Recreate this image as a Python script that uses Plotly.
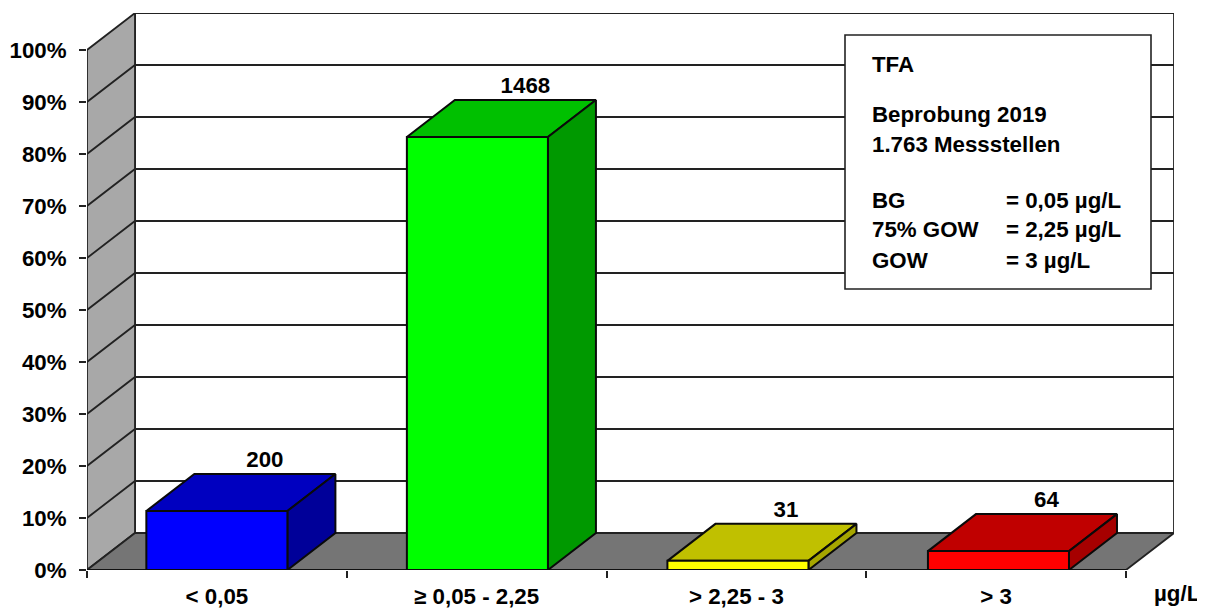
import plotly.graph_objects as go

categories = ["< 0,05", "≥ 0,05 - 2,25", "> 2,25 - 3", "> 3"]
counts = [200, 1468, 31, 64]
total_sites = 1763
y_ticks = [0, 10, 20, 30, 40, 50, 60, 70, 80, 90, 100]
unit_label = "µg/L"
front_colors = ["#0000ff", "#00ff00", "#ffff00", "#ff0000"]
top_colors = ["#0000c0", "#00c000", "#c0c000", "#c00000"]
side_colors = ["#000099", "#009900", "#a6a600", "#a60000"]
info_left = [("TFA", 65), ("Beprobung 2019", 115), ("1.763 Messstellen", 145),
             ("BG", 200), ("75% GOW", 230), ("GOW", 260)]
info_right = [("= 0,05 µg/L", 200), ("= 2,25 µg/L", 230), ("= 3 µg/L", 260)]

W, H = 1205, 608
PAGE = 8                  # default body margin of the written page
L, R, T, B = 87, 1174, 13, 570
DX = 48 / 259.75          # depth offset in category units
DY = 37 / 5.2             # depth offset in percent units
BAR_W = 0.543
BAR_STEP = 1.003          # bar spacing, in category units
LABEL_PAD = 0.3           # extra lift of value labels, in percent units
n = len(categories)
LINE = "#222222"
FONT = dict(family="Liberation Sans, Arial, sans-serif", size=22.3, color="black", weight=700)

percent = [c / total_sites * 100 for c in counts]
fig = go.Figure()


def poly(xs, ys, fill, lw=1.8, lc=LINE):
    fig.add_trace(go.Scatter(x=xs + xs[:1], y=ys + ys[:1], mode="lines", fill="toself",
                             fillcolor=fill, line=dict(color=lc, width=lw),
                             hoverinfo="skip", showlegend=False, cliponaxis=False))


def seg(xs, ys, lw=1.8, lc=LINE):
    fig.add_trace(go.Scatter(x=xs, y=ys, mode="lines", line=dict(color=lc, width=lw),
                             hoverinfo="skip", showlegend=False, cliponaxis=False))


# walls and floor
top = y_ticks[-1]
poly([DX, n + DX, n + DX, DX], [DY, DY, top + DY, top + DY], "white")
poly([0, DX, DX, 0], [0, DY, top + DY, top], "#a8a8a8")
poly([0, n, n + DX, DX], [0, 0, DY, DY], "#757575")
for t in y_ticks[1:-1]:
    seg([0, DX, n + DX], [t, t + DY, t + DY])
seg([0, n], [0, 0], lw=2, lc="#111111")

# bars
for i, p in enumerate(percent):
    x0 = (1 - BAR_W) / 2 + i * BAR_STEP
    x1 = x0 + BAR_W
    poly([x0, x1, x1 + DX, x0 + DX], [p, p, p + DY, p + DY], top_colors[i], 2, "#0a0a0a")
    poly([x1, x1 + DX, x1 + DX, x1], [0, DY, p + DY, p], side_colors[i], 2, "#0a0a0a")
    poly([x0, x1, x1, x0], [0, 0, p, p], front_colors[i], 2, "#0a0a0a")

# value labels
fig.add_trace(go.Scatter(
    x=[0.5 + i * BAR_STEP + DX for i in range(n)], y=[p + DY + LABEL_PAD for p in percent],
    text=[str(c) for c in counts], mode="text", textposition="top center",
    textfont=FONT, hoverinfo="skip", showlegend=False, cliponaxis=False))

axis_common = dict(showgrid=False, zeroline=False, showline=False, tickfont=FONT,
                   ticklen=7, tickwidth=1.6, tickcolor=LINE, ticks="outside")
fig.update_xaxes(range=[0, n + DX], tickmode="array",
                 tickvals=[i + 0.5 for i in range(n)], ticktext=categories,
                 **{**axis_common, "ticks": "", "ticklen": 0},
                 ticklabelstandoff=11,
                 minor=dict(tickmode="array", tickvals=list(range(n + 1)), ticks="outside",
                            ticklen=7, tickwidth=1.6, tickcolor=LINE, showgrid=False))
fig.update_yaxes(range=[0, top + DY], tickmode="array", tickvals=y_ticks,
                 ticktext=[f"{t}%" for t in y_ticks], ticklabelstandoff=8, **axis_common)

anns = []
for txt, y in info_left:
    anns.append(dict(text=txt, x=870, y=y, xanchor="left"))
for txt, y in info_right:
    anns.append(dict(text=txt, x=1004, y=y, xanchor="left"))
anns.append(dict(text=unit_label, x=1177, y=593.5, xanchor="center"))

for a in anns:
    x_, y_ = a.pop("x"), a.pop("y")
    fig.add_annotation(x=(x_ - L) / (R - L), y=(B - y_) / (B - T), xref="paper", yref="paper",
                       yanchor="middle", showarrow=False, font=FONT, **a)

fig.add_shape(type="rect", xref="paper", yref="paper", layer="above",
              x0=(845 - L) / (R - L), x1=(1151 - L) / (R - L),
              y0=(B - 289) / (B - T), y1=(B - 35) / (B - T),
              fillcolor="white", line=dict(color=LINE, width=1.6))

fig.update_layout(width=W - PAGE, height=H - PAGE, autosize=False, showlegend=False,
                  paper_bgcolor="white", plot_bgcolor="white", hovermode=False,
                  margin=dict(l=L - PAGE, r=W - R, t=T - PAGE, b=H - B, pad=0, autoexpand=False))
fig.write_html("out.html", config=dict(displayModeBar=False, responsive=False))
